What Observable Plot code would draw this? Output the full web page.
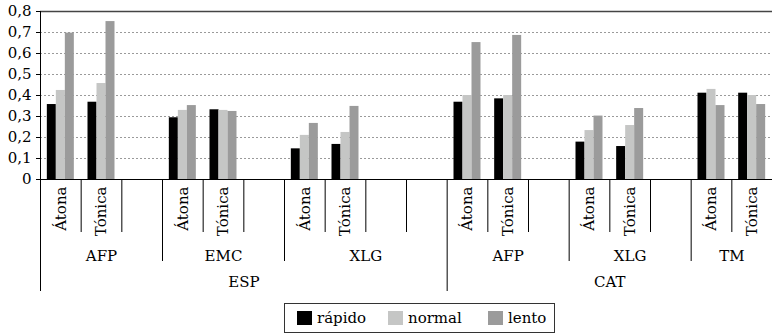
<!DOCTYPE html>
<html>
<head>
<meta charset="utf-8">
<script src="https://cdn.jsdelivr.net/npm/d3@7"></script>
<script src="https://cdn.jsdelivr.net/npm/@observablehq/plot@0.6"></script>
<style>
  html, body { margin: 0; padding: 0; background: #fff; }
  #chart { position: relative; width: 772px; height: 335px; font-family: "DejaVu Serif", serif; }
  #chart svg { display: block; }
  .legend { position: absolute; left: 284px; top: 303px; width: 271px; height: 30px; border: 1px solid #333; box-sizing: border-box; font-size: 15px; color: #000; }
  .legend .item { position: absolute; top: 0; height: 28px; display: flex; align-items: center; }
  .legend .sw { width: 15px; height: 14px; margin-right: 5px; }
</style>
</head>
<body>
<div id="chart"></div>
<script>
// ---- data ----
const languages = ["ESP", "CAT"];
const varieties = ["AFP", "EMC", "XLG", "AFP", "XLG", "TM"];
const varietyLanguage = ["ESP", "ESP", "ESP", "CAT", "CAT", "CAT"];
// stress categories per variety ("" = empty category in the original chart)
const stressSlots = [
  ["Átona", "Tónica", ""],
  ["Átona", "Tónica", ""],
  ["Átona", "Tónica", "", ""],
  ["Átona", "Tónica", ""],
  ["Átona", "Tónica", ""],
  ["Átona", "Tónica"]
];
const speeds = ["rápido", "normal", "lento"];
const speedColors = ["#000000", "#c5c6c5", "#9b9b9b"];
// values in order: ESP-AFP Át, Tó, ESP-EMC Át, Tó, ESP-XLG Át, Tó, CAT-AFP Át, Tó, CAT-XLG Át, Tó, CAT-TM Át, Tó
const rapido = [0.357, 0.368, 0.294, 0.332, 0.146, 0.167, 0.368, 0.384, 0.178, 0.157, 0.411, 0.411];
const normal = [0.424, 0.457, 0.329, 0.329, 0.210, 0.224, 0.400, 0.400, 0.233, 0.257, 0.429, 0.400];
const lento  = [0.697, 0.752, 0.352, 0.324, 0.267, 0.348, 0.652, 0.686, 0.302, 0.338, 0.352, 0.357];
const yTicks = [0, 0.1, 0.2, 0.3, 0.4, 0.5, 0.6, 0.7, 0.8];
const yTickLabels = ["0", "0,1", "0,2", "0,3", "0,4", "0,5", "0,6", "0,7", "0,8"];

// ---- build tables ----
const series = [rapido, normal, lento];
const slots = [];
let idx = 0, k = 0;
varieties.forEach((v, vi) => {
  stressSlots[vi].forEach((s, si) => {
    slots.push({i: idx++, variety: v, vi, language: varietyLanguage[vi], stress: s, valueIndex: s ? k++ : -1});
  });
});
const nSlots = slots.length;

const width = 772, height = 298;
const marginLeft = 40, marginRight = 0, marginTop = 11, marginBottom = 119;
const step = (width - marginLeft - marginRight) / nSlots;
const bw = 9 / step; // bar width in slot units

const bars = [];
slots.filter(d => d.stress).forEach(d => {
  speeds.forEach((sp, j) => {
    const x1 = d.i + 0.5 + (j - 1.5) * bw;
    bars.push({x1, x2: x1 + bw, value: series[j][d.valueIndex], speed: sp});
  });
});

const boundaries = [];
for (let i = 1; i < nSlots; i++) {
  const a = slots[i - 1], b = slots[i];
  const kind = a.language !== b.language ? "lang" : a.vi !== b.vi ? "var" : "short";
  boundaries.push({x: i, kind});
}

const varietySpans = varieties.map((v, vi) => {
  const s = slots.filter(d => d.vi === vi);
  return {label: v, x: (s[0].i + s[s.length - 1].i + 1) / 2};
});
const languageSpans = languages.map(l => {
  const s = slots.filter(d => d.language === l);
  return {label: l, x: (s[0].i + s[s.length - 1].i + 1) / 2};
});

const font = "DejaVu Serif";
const fs = 15;

const chart = Plot.plot({
  width, height, marginLeft, marginRight, marginTop, marginBottom,
  style: {fontFamily: font, fontSize: fs + "px", color: "#000", background: "#fff", overflow: "visible"},
  x: {domain: [0, nSlots], axis: null},
  y: {domain: [0, 0.8], ticks: yTicks, tickFormat: (d, i) => yTickLabels[i], tickSize: 4, tickPadding: 5, label: null},
  color: {domain: speeds, range: speedColors},
  marks: [
    Plot.ruleY(yTicks.filter(t => t > 0 && t < 0.8), {stroke: "#9a9a9a", strokeDasharray: "2,2", strokeWidth: 1}),
    Plot.rectY(bars, {x1: "x1", x2: "x2", y: "value", fill: "speed"}),
    Plot.ruleY([0.8], {stroke: "#444", strokeWidth: 1.4}),
    Plot.ruleY([0], {stroke: "#000", strokeWidth: 1}),
    // axis line, extending down to the language level
    Plot.ruleX([0], {y1: 0.8, y2: 0, stroke: "#000", insetBottom: -112}),
    Plot.ruleX(boundaries.filter(d => d.kind === "short"), {x: "x", y1: 0, y2: 0, stroke: "#000", insetBottom: -53}),
    Plot.ruleX(boundaries.filter(d => d.kind === "var"), {x: "x", y1: 0, y2: 0, stroke: "#000", insetBottom: -82}),
    Plot.ruleX(boundaries.filter(d => d.kind === "lang"), {x: "x", y1: 0, y2: 0, stroke: "#000", insetBottom: -112}),
    Plot.text(slots.filter(d => d.stress), {
      x: d => d.i + 0.5, frameAnchor: "bottom", text: "stress", rotate: -90,
      textAnchor: "end", lineAnchor: "middle", dy: 7, fontSize: fs, fontFamily: font, fill: "#000"
    }),
    Plot.text(varietySpans, {
      x: "x", frameAnchor: "bottom", text: "label", textAnchor: "middle", lineAnchor: "middle",
      dy: 77, fontSize: fs, fontFamily: font, fill: "#000"
    }),
    Plot.text(languageSpans, {
      x: "x", frameAnchor: "bottom", text: "label", textAnchor: "middle", lineAnchor: "middle",
      dy: 103, fontSize: fs, fontFamily: font, fill: "#000"
    })
  ]
});

const root = document.getElementById("chart");
root.appendChild(chart);

// legend
const legend = document.createElement("div");
legend.className = "legend";
const itemLefts = [12, 103, 203];
speeds.forEach((sp, j) => {
  const it = document.createElement("div");
  it.className = "item";
  it.style.left = itemLefts[j] + "px";
  const sw = document.createElement("span");
  sw.className = "sw";
  sw.style.background = speedColors[j];
  const tx = document.createElement("span");
  tx.textContent = sp;
  it.appendChild(sw);
  it.appendChild(tx);
  legend.appendChild(it);
});
root.appendChild(legend);
</script>
</body>
</html>
